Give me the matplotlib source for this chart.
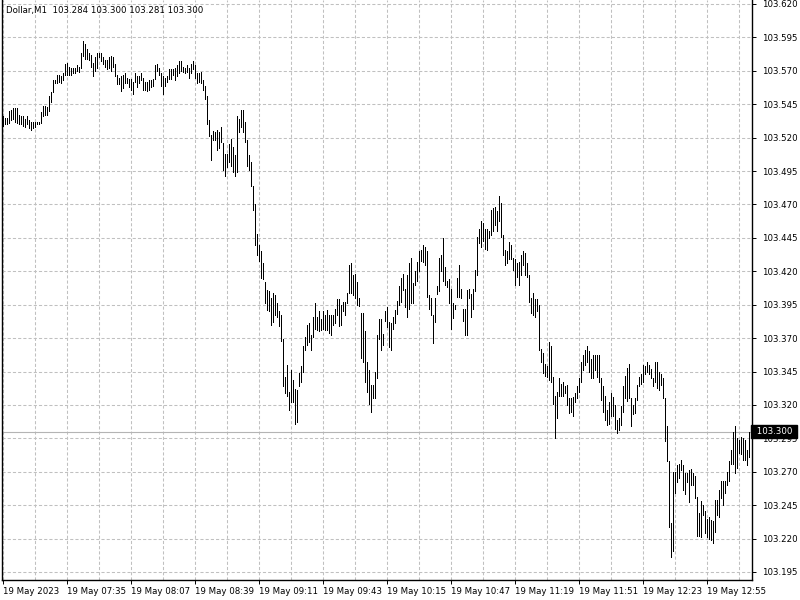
import matplotlib
matplotlib.use('Agg')
import matplotlib.pyplot as plt
import numpy as np

# Dollar index, 1-minute bars, 19 May 2023 07:03 .. 13:16
symbol = 'Dollar,M1'
last_ohlc = [103.284, 103.300, 103.281, 103.300]
current_price = 103.300

time_labels = ['19 May 2023', '19 May 07:35', '19 May 08:07', '19 May 08:39',
               '19 May 09:11', '19 May 09:43', '19 May 10:15', '19 May 10:47',
               '19 May 11:19', '19 May 11:51', '19 May 12:23', '19 May 12:55']

highs = [
    103.536, 103.535, 103.535, 103.540, 103.541, 103.542, 103.542, 103.542, 103.537, 103.536,
    103.536, 103.534, 103.536, 103.533, 103.532, 103.532, 103.532, 103.532, 103.532, 103.539,
    103.544, 103.544, 103.543, 103.551, 103.554, 103.563, 103.563, 103.567, 103.567, 103.566,
    103.568, 103.575, 103.576, 103.573, 103.572, 103.572, 103.572, 103.574, 103.573, 103.583,
    103.592, 103.590, 103.586, 103.583, 103.582, 103.576, 103.580, 103.583, 103.583, 103.583,
    103.580, 103.578, 103.578, 103.580, 103.581, 103.580, 103.575, 103.567, 103.565, 103.566,
    103.567, 103.568, 103.565, 103.564, 103.564, 103.562, 103.568, 103.566, 103.566, 103.568,
    103.565, 103.562, 103.562, 103.563, 103.563, 103.564, 103.574, 103.575, 103.572, 103.568,
    103.566, 103.565, 103.566, 103.571, 103.571, 103.571, 103.572, 103.574, 103.577, 103.577,
    103.573, 103.572, 103.574, 103.572, 103.575, 103.577, 103.574, 103.568, 103.568, 103.569,
    103.563, 103.559, 103.551, 103.533, 103.522, 103.525, 103.524, 103.526, 103.524, 103.528,
    103.516, 103.508, 103.508, 103.515, 103.519, 103.513, 103.507, 103.536, 103.534, 103.541,
    103.541, 103.532, 103.518, 103.507, 103.502, 103.484, 103.470, 103.448, 103.440, 103.435,
    103.426, 103.412, 103.406, 103.405, 103.400, 103.404, 103.402, 103.396, 103.390, 103.387,
    103.369, 103.341, 103.350, 103.330, 103.346, 103.339, 103.332, 103.331, 103.344, 103.349,
    103.364, 103.371, 103.380, 103.381, 103.372, 103.386, 103.396, 103.386, 103.390, 103.384,
    103.390, 103.387, 103.391, 103.387, 103.387, 103.387, 103.392, 103.399, 103.399, 103.395,
    103.397, 103.397, 103.404, 103.425, 103.426, 103.417, 103.418, 103.412, 103.400, 103.389,
    103.389, 103.375, 103.352, 103.346, 103.335, 103.335, 103.345, 103.372, 103.384, 103.384,
    103.373, 103.390, 103.393, 103.382, 103.381, 103.386, 103.391, 103.398, 103.409, 103.415,
    103.418, 103.407, 103.417, 103.426, 103.430, 103.411, 103.420, 103.427, 103.435, 103.436,
    103.440, 103.438, 103.435, 103.402, 103.400, 103.387, 103.400, 103.409, 103.430, 103.432,
    103.445, 103.423, 103.413, 103.414, 103.407, 103.396, 103.395, 103.415, 103.425, 103.407,
    103.392, 103.392, 103.406, 103.407, 103.403, 103.407, 103.421, 103.446, 103.452, 103.458,
    103.456, 103.452, 103.452, 103.450, 103.466, 103.467, 103.468, 103.465, 103.476, 103.471,
    103.447, 103.436, 103.435, 103.442, 103.440, 103.430, 103.429, 103.426, 103.427, 103.432,
    103.435, 103.434, 103.426, 103.417, 103.400, 103.404, 103.399, 103.399, 103.395, 103.362,
    103.359, 103.351, 103.349, 103.367, 103.364, 103.341, 103.327, 103.330, 103.340, 103.336,
    103.337, 103.334, 103.335, 103.325, 103.325, 103.326, 103.329, 103.334, 103.340, 103.352,
    103.357, 103.361, 103.364, 103.360, 103.354, 103.357, 103.357, 103.357, 103.357, 103.340,
    103.334, 103.327, 103.316, 103.322, 103.329, 103.326, 103.320, 103.309, 103.310, 103.319,
    103.334, 103.342, 103.348, 103.351, 103.325, 103.320, 103.325, 103.335, 103.341, 103.343,
    103.350, 103.349, 103.352, 103.350, 103.347, 103.340, 103.352, 103.352, 103.345, 103.343,
    103.340, 103.325, 103.304, 103.278, 103.232, 103.270, 103.270, 103.275, 103.276, 103.279,
    103.275, 103.269, 103.269, 103.271, 103.272, 103.269, 103.267, 103.251, 103.239, 103.248,
    103.245, 103.241, 103.235, 103.236, 103.234, 103.233, 103.249, 103.249, 103.256, 103.263,
    103.263, 103.263, 103.270, 103.278, 103.286, 103.300, 103.304, 103.295, 103.294, 103.296,
    103.295, 103.294, 103.286, 103.300,
]

lows = [
    103.529, 103.530, 103.530, 103.531, 103.533, 103.534, 103.532, 103.531, 103.530, 103.530,
    103.529, 103.528, 103.530, 103.527, 103.526, 103.527, 103.528, 103.530, 103.530, 103.531,
    103.536, 103.537, 103.537, 103.540, 103.547, 103.554, 103.561, 103.561, 103.562, 103.561,
    103.563, 103.567, 103.567, 103.567, 103.567, 103.568, 103.568, 103.570, 103.569, 103.572,
    103.581, 103.579, 103.579, 103.578, 103.573, 103.566, 103.570, 103.572, 103.580, 103.577,
    103.575, 103.573, 103.571, 103.572, 103.570, 103.573, 103.566, 103.560, 103.560, 103.555,
    103.557, 103.561, 103.561, 103.558, 103.556, 103.553, 103.562, 103.558, 103.561, 103.563,
    103.556, 103.556, 103.555, 103.556, 103.558, 103.559, 103.564, 103.570, 103.567, 103.559,
    103.553, 103.559, 103.562, 103.564, 103.564, 103.567, 103.563, 103.566, 103.568, 103.570,
    103.569, 103.568, 103.569, 103.565, 103.568, 103.571, 103.565, 103.561, 103.562, 103.561,
    103.556, 103.549, 103.530, 103.521, 103.503, 103.518, 103.518, 103.511, 103.512, 103.517,
    103.496, 103.491, 103.498, 103.502, 103.499, 103.494, 103.491, 103.494, 103.524, 103.528,
    103.524, 103.517, 103.499, 103.496, 103.484, 103.466, 103.440, 103.432, 103.428, 103.415,
    103.414, 103.396, 103.391, 103.390, 103.380, 103.382, 103.387, 103.386, 103.379, 103.368,
    103.334, 103.329, 103.327, 103.316, 103.322, 103.322, 103.306, 103.307, 103.334, 103.337,
    103.345, 103.361, 103.365, 103.367, 103.361, 103.371, 103.377, 103.376, 103.375, 103.376,
    103.377, 103.376, 103.376, 103.374, 103.372, 103.380, 103.381, 103.387, 103.379, 103.380,
    103.390, 103.387, 103.396, 103.404, 103.404, 103.402, 103.400, 103.395, 103.394, 103.355,
    103.352, 103.337, 103.330, 103.321, 103.315, 103.325, 103.325, 103.340, 103.369, 103.361,
    103.365, 103.383, 103.378, 103.363, 103.361, 103.377, 103.381, 103.388, 103.395, 103.397,
    103.406, 103.393, 103.386, 103.392, 103.396, 103.396, 103.410, 103.413, 103.420, 103.428,
    103.427, 103.425, 103.401, 103.392, 103.387, 103.366, 103.382, 103.403, 103.405, 103.420,
    103.413, 103.410, 103.408, 103.396, 103.377, 103.385, 103.392, 103.401, 103.401, 103.400,
    103.383, 103.372, 103.372, 103.400, 103.386, 103.392, 103.405, 103.417, 103.441, 103.438,
    103.443, 103.437, 103.436, 103.445, 103.447, 103.450, 103.455, 103.450, 103.458, 103.446,
    103.432, 103.425, 103.426, 103.429, 103.429, 103.421, 103.410, 103.416, 103.410, 103.417,
    103.425, 103.417, 103.416, 103.397, 103.389, 103.387, 103.386, 103.390, 103.361, 103.352,
    103.344, 103.342, 103.341, 103.339, 103.337, 103.321, 103.295, 103.310, 103.327, 103.327,
    103.327, 103.329, 103.320, 103.314, 103.315, 103.312, 103.322, 103.325, 103.330, 103.337,
    103.346, 103.350, 103.352, 103.345, 103.340, 103.340, 103.346, 103.341, 103.337, 103.324,
    103.315, 103.309, 103.305, 103.306, 103.312, 103.312, 103.302, 103.299, 103.301, 103.305,
    103.315, 103.325, 103.323, 103.325, 103.304, 103.313, 103.314, 103.324, 103.334, 103.336,
    103.337, 103.343, 103.345, 103.343, 103.340, 103.334, 103.337, 103.333, 103.331, 103.335,
    103.325, 103.293, 103.278, 103.229, 103.206, 103.211, 103.254, 103.262, 103.265, 103.271,
    103.256, 103.253, 103.262, 103.247, 103.260, 103.260, 103.250, 103.222, 103.222, 103.221,
    103.238, 103.224, 103.221, 103.220, 103.219, 103.217, 103.225, 103.238, 103.236, 103.250,
    103.245, 103.254, 103.260, 103.263, 103.276, 103.276, 103.269, 103.273, 103.284, 103.283,
    103.279, 103.279, 103.275, 103.281,
]

GRID = '#c0c0c0'
FS = 6.2
plt.rcParams['font.family'] = 'DejaVu Sans'
plt.rcParams['font.size'] = FS

fig = plt.figure(figsize=(8, 6), dpi=100)
fig.patch.set_facecolor('white')
ax = fig.add_axes([2 / 800, 20 / 600, 750 / 800, 580 / 600])

n = len(highs)
x = np.arange(n)
ax.vlines(x, lows, highs, colors='black', linewidth=0.6, antialiased=False, zorder=3)

ax.set_xlim(-0.5, 374.5)
ax.set_ylim(103.18901, 103.62299)

# price grid every 0.025, time grid every 16 bars
yticks = np.round(np.arange(103.195, 103.6201, 0.025), 3)
for yv in yticks:
    ax.axhline(yv, color=GRID, linewidth=0.75, linestyle=(0, (3, 2)), zorder=1)
for xv in range(0, n, 16):
    ax.axvline(xv, color=GRID, linewidth=0.75, linestyle=(0, (3, 2)), zorder=1)

# current price line
ax.axhline(current_price, color='#b4b4b4', linewidth=0.8, zorder=2)

ax.yaxis.tick_right()
ax.set_yticks(yticks)
ax.set_yticklabels([f'{v:.3f}' for v in yticks])
ax.tick_params(axis='y', length=3, width=0.7, pad=4, labelsize=FS)

ax.set_xticks(range(0, 32 * len(time_labels), 32))
ax.set_xticklabels(time_labels, ha='left')
ax.tick_params(axis='x', length=3, width=0.7, pad=2, labelsize=FS)

for side in ['left', 'right', 'bottom']:
    ax.spines[side].set_linewidth(1.0)
ax.spines['top'].set_visible(False)

ax.text(1.002, current_price, f' {current_price:.3f} ', transform=ax.get_yaxis_transform(),
        ha='left', va='center', color='white', fontsize=FS, zorder=5,
        bbox=dict(boxstyle='square,pad=0.25', facecolor='black', edgecolor='black'))

fig.text(6 / 800, 1 - 11 / 600,
         f'{symbol}  ' + ' '.join(f'{v:.3f}' for v in last_ohlc),
         ha='left', va='center', fontsize=FS, color='black')

fig.savefig('out.png', dpi=100)
